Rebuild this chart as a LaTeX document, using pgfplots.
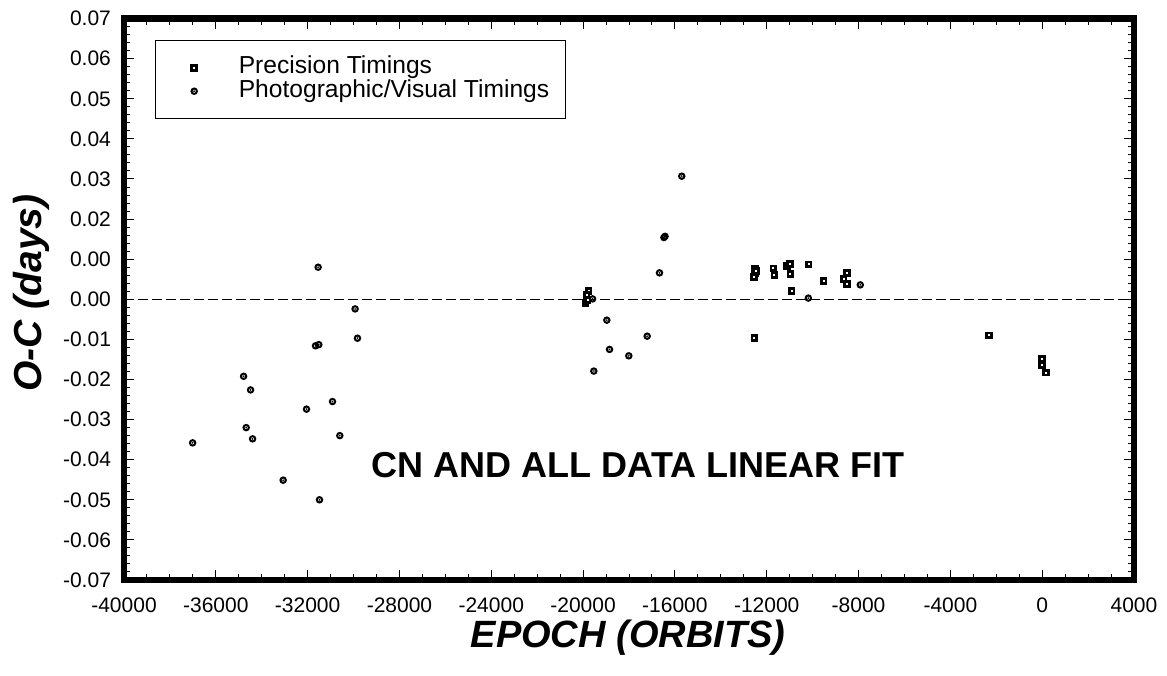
\documentclass[border=0pt]{standalone}
\usepackage{pgfplots}
\pgfplotsset{compat=1.18}
\usepackage{fontspec}
\setmainfont{Liberation Sans}
\pgfdeclareplotmark{odot}{%
  \pgfpathcircle{\pgfpointorigin}{\pgfplotmarksize}\pgfusepathqstroke
  \pgfpathcircle{\pgfpointorigin}{0.5pt}\pgfusepathqfill}
\begin{document}
\begin{tikzpicture}
\begin{axis}[name=ax,
  scale only axis, width=505pt, height=280.7pt,
  xmin=-40000, xmax=4000, ymin=-0.07, ymax=0.07,
  scaled ticks=false,
  axis line style={line width=3.2pt},
  tick align=inside,
  major tick length=5pt, minor tick length=3pt,
  tick style={line width=0.5pt, black},
  xtick={-40000,-36000,-32000,-28000,-24000,-20000,-16000,-12000,-8000,-4000,0,4000},
  xticklabels={-40000,-36000,-32000,-28000,-24000,-20000,-16000,-12000,-8000,-4000,0,4000},
  minor x tick num=3,
  ytick={-0.07,-0.06,-0.05,-0.04,-0.03,-0.02,-0.01,0,0.01,0.02,0.03,0.04,0.05,0.06,0.07},
  yticklabels={-0.07,-0.06,-0.05,-0.04,-0.03,-0.02,-0.01,0.00,0.00,0.02,0.03,0.04,0.05,0.06,0.07},
  minor y tick num=4,
  ticklabel style={font=\fontsize{10.5}{12}\selectfont},
  xticklabel style={yshift=-5.5pt},
  yticklabel style={xshift=-3pt},
  xlabel={EPOCH (ORBITS)},
  ylabel={O-C (days)},
  xlabel style={at={(axis description cs:0.499,-0.103)}, anchor=center, font=\fontsize{19}{22}\selectfont\bfseries\itshape},
  ylabel style={at={(axis description cs:-0.0921,0.511)}, anchor=center, font=\fontsize{19.5}{22}\selectfont\bfseries\itshape},
  legend cell align=left,
  legend image code/.code={\path (-11pt,0pt) (11pt,0pt);\draw[mark repeat=2,mark phase=2,#1] plot coordinates {(-11pt,0pt)(0pt,0pt)(11pt,0pt)};},
  legend style={at={(0.0307,0.962)}, anchor=north west, draw=black, line width=0.6pt,
    inner xsep=8pt, inner ysep=7.8pt, font=\fontsize{12.3}{14}\selectfont,
    nodes={inner sep=0pt, text height=8.8pt, text depth=2.9pt, anchor=west},
    /tikz/every odd column/.append style={column sep=11pt}, row sep=0pt},
]
\addplot[only marks, mark=square*, mark size=1.2pt, mark options={fill=white, draw=black, line width=1.4pt}]
coordinates {
(-19762,0.0021) (-19849,0.0011) (-19893,-0.0009) (-19806,-0.0002)
(-12507,0.0077) (-12507,0.0065) (-12551,0.0056) (-12480,0.0070)
(-11711,0.0077) (-11667,0.0061) (-11115,0.0083) (-10984,0.0088)
(-10971,0.0063) (-10175,0.0087) (-10914,0.0020) (-9522,0.0046)
(-8503,0.0065) (-8651,0.0051) (-8503,0.0038) (-12538,-0.0097)
(-2310,-0.0090) (-17,-0.0149) (-17,-0.0164) (158,-0.0183)
};
\addlegendentry{Precision Timings}
\addplot[only marks, mark=odot, mark size=1.35pt, mark options={draw=black, fill=black, line width=1.0pt}]
coordinates {
(-37010,-0.0358) (-34790,-0.0192) (-34486,-0.0226) (-34677,-0.0320)
(-34399,-0.0348) (-33067,-0.0451) (-31543,0.0080) (-29933,-0.0024)
(-29829,-0.0097) (-31657,-0.0116) (-31513,-0.0113) (-32049,-0.0274)
(-30917,-0.0255) (-30599,-0.0340) (-31483,-0.0500) (-15702,0.0307)
(-16480,0.0154) (-16430,0.0157) (-16672,0.0066) (-18966,-0.0052)
(-17208,-0.0092) (-18848,-0.0125) (-18008,-0.0141) (-19532,-0.0179)
(-19588,0.0001) (-7925,0.0036) (-10188,0.0003)
};
\addlegendentry{Photographic/Visual Timings}
\addplot[forget plot, black, line width=0.6pt, dash pattern=on 5pt off 2pt] coordinates {(-40000,0) (4000,0)};
\node[font=\fontsize{18}{21}\selectfont\bfseries] at (axis cs:-17600,-0.0413) {CN AND ALL DATA LINEAR FIT};
\end{axis}
\path (ax.south west) ++(-62pt,-47.5pt) coordinate (bbA);
\path (ax.north east) ++(16.5pt,9.3pt) coordinate (bbB);
\pgfresetboundingbox
\path (bbA) rectangle (bbB);
\end{tikzpicture}
\end{document}
